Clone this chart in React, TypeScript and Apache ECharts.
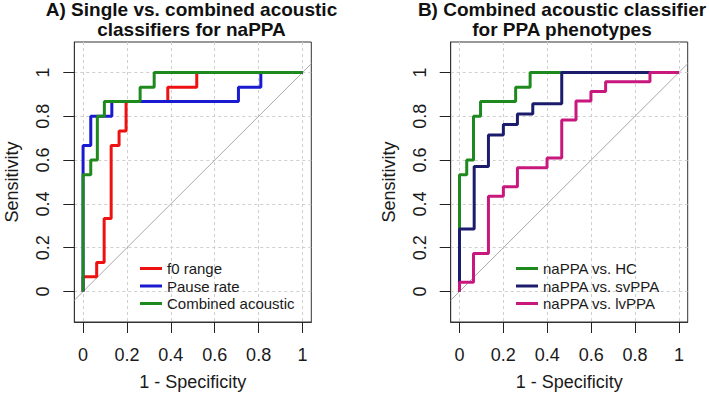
import React, { useEffect, useRef } from "react";
import * as echarts from "echarts";

// ---- data (ROC corner points; step lines go vertical first, then horizontal) ----
const tickValues = [0, 0.2, 0.4, 0.6, 0.8, 1];

// Panel A
const f0Fpr = [0, 0.062, 0.096, 0.128, 0.164, 0.196, 0.386, 0.518, 1];
const f0Tpr = [0, 0.067, 0.133, 0.333, 0.667, 0.733, 0.867, 0.933, 1];
const pauseFpr = [0, 0.035, 0.131, 0.708, 0.81, 1];
const pauseTpr = [0, 0.667, 0.8, 0.867, 0.933, 1];
const combinedFpr = [0, 0.035, 0.065, 0.097, 0.26, 0.324, 1];
const combinedTpr = [0, 0.533, 0.6, 0.8, 0.867, 0.933, 1];

// Panel B
const hcFpr = [0, 0.033, 0.064, 0.096, 0.256, 0.322, 1];
const hcTpr = [0, 0.533, 0.6, 0.8, 0.867, 0.933, 1];
const svFpr = [0, 0.067, 0.132, 0.2, 0.264, 0.334, 0.466, 1];
const svTpr = [0, 0.286, 0.571, 0.714, 0.762, 0.81, 0.857, 1];
const lvFpr = [0, 0.064, 0.132, 0.2, 0.264, 0.399, 0.466, 0.531, 0.599, 0.666, 0.868, 1];
const lvTpr = [0, 0.043, 0.174, 0.435, 0.478, 0.565, 0.609, 0.783, 0.87, 0.913, 0.957, 1];

const legendA = ["f0 range", "Pause rate", "Combined acoustic"];
const legendB = ["naPPA vs. HC", "naPPA vs. svPPA", "naPPA vs. lvPPA"];
const titleA = "A) Single vs. combined acoustic\nclassifiers for naPPA";
const titleB = "B) Combined acoustic classifier\nfor PPA phenotypes";

const FONT = '"Liberation Sans", Arial, Helvetica, sans-serif';
const X_MIN = -0.04, X_MAX = 1.04;
const Y_MIN = -0.139, Y_MAX = 1.139;

const zip = (xs: number[], ys: number[]) => xs.map((x, i) => [x, ys[i]]);

const axisLineStyle = { show: true, onZero: false, lineStyle: { color: "#333", width: 1 } };

function xAxisFor(gridIndex: number) {
  return {
    type: "value",
    gridIndex,
    position: "bottom",
    min: X_MIN,
    max: X_MAX,
    name: "1 - Specificity",
    nameLocation: "middle",
    nameGap: 51,
    nameTextStyle: { fontFamily: FONT, fontSize: 18, color: "#1a1a1a" },
    axisLine: axisLineStyle,
    axisTick: { show: true, inside: false, length: 11, customValues: tickValues, lineStyle: { color: "#222", width: 1 } },
    axisLabel: { customValues: tickValues, margin: 24, fontFamily: FONT, fontSize: 18, color: "#1a1a1a" },
    splitLine: { show: true, lineStyle: { color: "#cfcfcf", type: [3, 3], width: 1 } },
  };
}

function yAxisFor(gridIndex: number) {
  return {
    type: "value",
    gridIndex,
    position: "left",
    min: Y_MIN,
    max: Y_MAX,
    name: "Sensitivity",
    nameLocation: "middle",
    nameGap: 53,
    nameTextStyle: { fontFamily: FONT, fontSize: 18, color: "#1a1a1a" },
    axisLine: axisLineStyle,
    axisTick: { show: true, inside: false, length: 11, customValues: tickValues, lineStyle: { color: "#222", width: 1 } },
    axisLabel: { customValues: tickValues, rotate: 90, margin: 22, fontFamily: FONT, fontSize: 18, color: "#1a1a1a" },
    splitLine: { show: true, lineStyle: { color: "#cfcfcf", type: [3, 3], width: 1 } },
  };
}

function curve(name: string, xs: number[], ys: number[], color: string, idx: number) {
  return {
    name,
    type: "line",
    xAxisIndex: idx,
    yAxisIndex: idx,
    data: zip(xs, ys),
    step: "start",
    symbol: "none",
    color,
    lineStyle: { color, width: 3 },
    clip: true,
  };
}

function diagonal(idx: number) {
  return {
    name: "chance" + idx,
    type: "line",
    xAxisIndex: idx,
    yAxisIndex: idx,
    data: [[X_MIN, X_MIN], [X_MAX, X_MAX]],
    symbol: "none",
    lineStyle: { color: "#a9a9a9", width: 1 },
    clip: true,
    silent: true,
  };
}

function legendFor(data: string[], left: number) {
  return {
    data,
    orient: "vertical",
    left,
    top: 261,
    padding: 0,
    itemGap: 2.5,
    itemWidth: 22,
    itemHeight: 3,
    icon: "rect",
    selectedMode: false,
    textStyle: { fontFamily: FONT, fontSize: 15, color: "#1a1a1a" },
  };
}

export default function App() {
  const ref = useRef<HTMLDivElement>(null);
  useEffect(() => {
    if (!ref.current) return;
    const chart = echarts.init(ref.current, null, { renderer: "svg" });
    const gridBase = { top: 42, width: 237, height: 280, show: true, borderColor: "#333", borderWidth: 1, backgroundColor: "transparent" };
    const titleStyle = { fontFamily: FONT, fontSize: 19, fontWeight: "bold", lineHeight: 19.5, color: "#111" };
    chart.setOption({
      animation: false,
      backgroundColor: "#ffffff",
      title: [
        { text: titleA, left: 191.5, top: 0, textAlign: "center", padding: 0, textStyle: titleStyle },
        { text: titleB, left: 562, top: 0, textAlign: "center", padding: 0, textStyle: titleStyle },
      ],
      grid: [
        { ...gridBase, left: 74.3 },
        { ...gridBase, left: 450.7 },
      ],
      xAxis: [xAxisFor(0), xAxisFor(1)],
      yAxis: [yAxisFor(0), yAxisFor(1)],
      legend: [legendFor(legendA, 140), legendFor(legendB, 516)],
      series: [
        diagonal(0),
        curve(legendA[0], f0Fpr, f0Tpr, "#ee1111", 0),
        curve(legendA[1], pauseFpr, pauseTpr, "#1a1ad0", 0),
        curve(legendA[2], combinedFpr, combinedTpr, "#1e8a1e", 0),
        diagonal(1),
        curve(legendB[0], hcFpr, hcTpr, "#1e8a1e", 1),
        curve(legendB[1], svFpr, svTpr, "#1c1c6c", 1),
        curve(legendB[2], lvFpr, lvTpr, "#c8187e", 1),
      ],
    });
    return () => chart.dispose();
  }, []);
  return <div ref={ref} style={{ position: "absolute", left: 0, top: 0, width: 709, height: 401 }} />;
}
